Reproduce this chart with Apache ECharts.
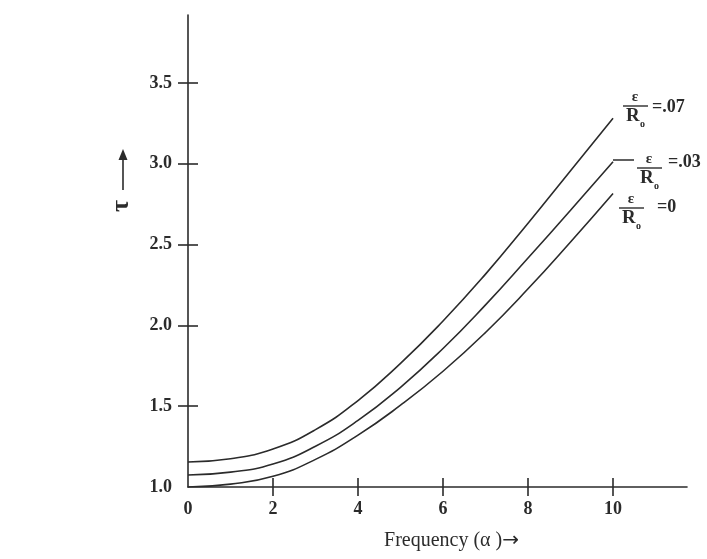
<!DOCTYPE html>
<html>
<head>
<meta charset="utf-8">
<script src="https://cdn.jsdelivr.net/npm/echarts@6/dist/echarts.min.js"></script>
<style>
  html, body { margin: 0; padding: 0; background: #fff; }
  #chart { width: 707px; height: 559px; }
</style>
</head>
<body>
<div id="chart"></div>
<script>
// frequency (alpha) values
const freq = [0, 1, 2, 3, 4, 5, 6, 7, 8, 9, 10]
// tau for eps/Ro = .07, .03, 0
const tau07 = [1.155, 1.175, 1.235, 1.355, 1.535, 1.765, 2.027, 2.317, 2.632, 2.957, 3.282]
const tau03 = [1.074, 1.092, 1.142, 1.252, 1.412, 1.617, 1.857, 2.127, 2.417, 2.712, 3.012]
const tau00 = [1.0, 1.018, 1.066, 1.171, 1.321, 1.506, 1.716, 1.956, 2.226, 2.516, 2.816]
const seriesNames = ['.07', '.03', '0']
// tick labels
const xTicks = [0, 2, 4, 6, 8, 10]
const xTickMarks = [2, 4, 6, 8, 10]
const yTicks = [1.0, 1.5, 2.0, 2.5, 3.0, 3.5]
const yTickMarks = [1.5, 2.0, 2.5, 3.0, 3.5]

const chart = echarts.init(document.getElementById('chart'))

const serif = '"Liberation Serif", "DejaVu Serif", serif'
const ink = '#2b2b2b'

const toPairs = arr => freq.map((f, i) => [f, arr[i]])

const lineSeries = (name, arr) => ({
  name: name,
  type: 'line',
  xAxisIndex: 0,
  yAxisIndex: 0,
  smooth: 0.5,
  showSymbol: false,
  lineStyle: { color: ink, width: 1.6 },
  data: toPairs(arr)
})

// fraction label eps / Ro = value
const fracLabel = (x, y, val, valDx, valDy) => ({
  type: 'group',
  x: x,
  y: y,
  children: [
    { type: 'text', x: 12, y: -1, style: { text: 'ε', font: 'bold 15px ' + serif, fill: ink, align: 'center', verticalAlign: 'bottom' } },
    { type: 'line', shape: { x1: 0, y1: 0, x2: 25, y2: 0 }, style: { stroke: ink, lineWidth: 1.4 } },
    { type: 'text', x: 3, y: 1, style: { text: 'R', font: 'bold 19px ' + serif, fill: ink, verticalAlign: 'top' } },
    { type: 'text', x: 17, y: 13, style: { text: 'o', font: 'bold 10px ' + serif, fill: ink, verticalAlign: 'top' } },
    { type: 'text', x: valDx, y: valDy, style: { text: '=' + val, font: 'bold 18px ' + serif, fill: ink, verticalAlign: 'middle' } }
  ]
})

const option = {
  animation: false,
  backgroundColor: '#fff',
  grid: { left: 188, right: 20, top: 15, bottom: 72 },
  xAxis: [
    {
      type: 'value',
      min: 0,
      max: 11.74,
      position: 'bottom',
      name: '{a|Frequency (α )}{b|→}',
      nameLocation: 'middle',
      nameGap: 44,
      nameTextStyle: {
        padding: [0, 0, 0, 28],
        rich: {
          a: { fontFamily: serif, fontSize: 20, color: ink },
          b: { fontFamily: '"DejaVu Sans", sans-serif', fontSize: 20, color: ink }
        }
      },
      axisLine: { lineStyle: { color: ink, width: 1.6 } },
      axisTick: { customValues: xTickMarks, length: 9, lineStyle: { color: ink, width: 1.6 } },
      axisLabel: {
        customValues: xTicks,
        margin: 13,
        fontFamily: serif,
        fontWeight: 'bold',
        fontSize: 18,
        color: ink
      },
      splitLine: { show: false }
    },
    {
      type: 'value',
      min: 0,
      max: 11.74,
      position: 'bottom',
      axisLine: { show: false },
      axisTick: { inside: true, customValues: xTickMarks, length: 9, lineStyle: { color: ink, width: 1.6 } },
      axisLabel: { show: false },
      splitLine: { show: false }
    }
  ],
  yAxis: [
    {
      type: 'value',
      min: 1,
      max: 3.92,
      position: 'left',
      axisLine: { show: true, lineStyle: { color: ink, width: 1.6 } },
      axisTick: { show: true, customValues: yTickMarks, length: 10, lineStyle: { color: ink, width: 1.6 } },
      axisLabel: {
        customValues: yTicks,
        margin: 16,
        formatter: v => v.toFixed(1),
        fontFamily: serif,
        fontWeight: 'bold',
        fontSize: 18,
        color: ink
      },
      splitLine: { show: false }
    },
    {
      type: 'value',
      min: 1,
      max: 3.92,
      position: 'left',
      axisLine: { show: false },
      axisTick: { show: true, inside: true, customValues: yTickMarks, length: 10, lineStyle: { color: ink, width: 1.6 } },
      axisLabel: { show: false },
      splitLine: { show: false }
    }
  ],
  series: [
    lineSeries(seriesNames[0], tau07),
    lineSeries(seriesNames[1], tau03),
    lineSeries(seriesNames[2], tau00)
  ],
  graphic: [
    // y-axis name: rotated tau with an upward arrow
    {
      type: 'text',
      x: 121,
      y: 206,
      rotation: Math.PI / 2,
      style: { text: 'τ', font: 'bold 26px ' + serif, fill: ink, align: 'center', verticalAlign: 'middle' }
    },
    { type: 'line', shape: { x1: 123, y1: 190, x2: 123, y2: 158 }, style: { stroke: ink, lineWidth: 1.6 } },
    { type: 'polygon', shape: { points: [[123, 149], [118.5, 160], [127.5, 160]] }, style: { fill: ink } },
    fracLabel(623, 106, seriesNames[0], 29, 1),
    // leader line from middle curve to its label
    { type: 'line', shape: { x1: 613, y1: 160, x2: 634, y2: 160 }, style: { stroke: ink, lineWidth: 1.5 } },
    fracLabel(637, 168, seriesNames[1], 31, -6),
    fracLabel(619, 208, seriesNames[2], 38, -1)
  ]
}

chart.setOption(option)
</script>
</body>
</html>
